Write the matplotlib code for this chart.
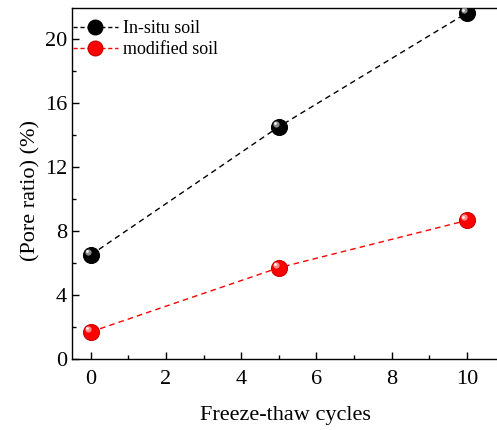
import matplotlib
matplotlib.use('Agg')
import matplotlib.pyplot as plt
import matplotlib.transforms as mtransforms
from matplotlib.lines import Line2D

plt.rcParams['font.family'] = ['Liberation Serif', 'DejaVu Serif']

# data
cycles = [0, 5, 10]
insitu = [6.5, 14.5, 21.6]
modified = [1.7, 5.7, 8.65]

fig = plt.figure(figsize=(4.97, 4.3), dpi=100)
ax = fig.add_axes([0.145, 0.165, 0.86, 0.816])

def sphere(x, y, color, dark):
    ax.plot(x, y, ls='--', dashes=(4, 3), color=color, lw=1.0, zorder=2)
    ax.plot(x, y, ls='none', marker='o', ms=11.5, mfc=color, mec=dark, mew=0.8, zorder=3)
    # little highlight so the markers look like balls
    hl = mtransforms.offset_copy(ax.transData, fig=fig, x=-2.2, y=2.2, units='points')
    ax.plot(x, y, ls='none', marker='o', ms=4.5, mfc='white', mec='none', alpha=0.55,
            transform=hl, zorder=4)
    hl2 = mtransforms.offset_copy(ax.transData, fig=fig, x=-2.5, y=2.5, units='points')
    ax.plot(x, y, ls='none', marker='o', ms=2, mfc='white', mec='none', alpha=0.9,
            transform=hl2, zorder=5)

sphere(cycles, insitu, 'black', '#000000')
sphere(cycles, modified, '#ff0000', '#cc0000')

ax.set_xlim(-0.5, 10.87)
ax.set_ylim(0, 21.9)
ax.set_xticks([0, 2, 4, 6, 8, 10])
ax.set_xticks([1, 3, 5, 7, 9], minor=True)
ax.set_yticks([0, 4, 8, 12, 16, 20])
ax.set_yticks([2, 6, 10, 14, 18], minor=True)
ax.tick_params(which='both', direction='in', labelsize=16, width=1)
ax.tick_params(which='major', length=5)
ax.tick_params(which='minor', length=3)
ax.tick_params(axis='x', pad=8)
for s in ax.spines.values():
    s.set_linewidth(1.0)
ax.spines['right'].set_visible(False)

ax.set_xlabel('Freeze-thaw cycles', fontsize=16, labelpad=12)
ax.set_ylabel('(Pore ratio) (%)', fontsize=16)
ax.yaxis.set_label_coords(-0.075, 0.48)

handles = [
    Line2D([], [], ls='--', dashes=(3, 2), color='black', lw=1, marker='o', ms=10.5,
           mfc='black', mec='black'),
    Line2D([], [], ls='--', dashes=(3, 2), color='#ff0000', lw=1, marker='o', ms=10.5,
           mfc='#ff0000', mec='#cc0000'),
]
ax.legend(handles, ['In-situ soil', 'modified soil'], loc='upper left', frameon=False,
          fontsize=13, handlelength=2.45, handletextpad=0.28, borderaxespad=0.0,
          labelspacing=0.22, borderpad=0.0, bbox_to_anchor=(0.003, 0.966))

fig.savefig('out.png', dpi=100)
